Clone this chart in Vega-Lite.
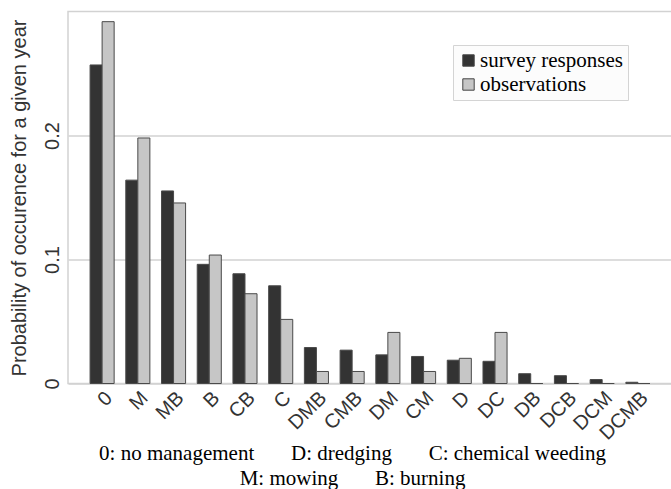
{
  "$schema": "https://vega.github.io/schema/vega-lite/v6.json",
  "width": 604,
  "height": 372,
  "autosize": {"type": "none"},
  "padding": {"left": 68, "top": 11.5, "right": 0, "bottom": 105.5},
  "background": "white",
  "config": {
    "view": {"stroke": "#d2d2d2", "strokeWidth": 1.5},
    "axis": {"domain": false, "ticks": false},
    "axisX": {"labelAngle": -45}
  },
  "data": {
    "values": [
      {"cat": "0", "series": "survey responses", "value": 0.2569},
      {"cat": "0", "series": "observations", "value": 0.2918},
      {"cat": "M", "series": "survey responses", "value": 0.164},
      {"cat": "M", "series": "observations", "value": 0.198},
      {"cat": "MB", "series": "survey responses", "value": 0.1553},
      {"cat": "MB", "series": "observations", "value": 0.1456},
      {"cat": "B", "series": "survey responses", "value": 0.0961},
      {"cat": "B", "series": "observations", "value": 0.1036},
      {"cat": "CB", "series": "survey responses", "value": 0.0885},
      {"cat": "CB", "series": "observations", "value": 0.0724},
      {"cat": "C", "series": "survey responses", "value": 0.0788},
      {"cat": "C", "series": "observations", "value": 0.0517},
      {"cat": "DMB", "series": "survey responses", "value": 0.029},
      {"cat": "DMB", "series": "observations", "value": 0.0097},
      {"cat": "CMB", "series": "survey responses", "value": 0.0269},
      {"cat": "CMB", "series": "observations", "value": 0.0097},
      {"cat": "DM", "series": "survey responses", "value": 0.0231},
      {"cat": "DM", "series": "observations", "value": 0.0412},
      {"cat": "CM", "series": "survey responses", "value": 0.0218},
      {"cat": "CM", "series": "observations", "value": 0.0097},
      {"cat": "D", "series": "survey responses", "value": 0.0188},
      {"cat": "D", "series": "observations", "value": 0.0203},
      {"cat": "DC", "series": "survey responses", "value": 0.0179},
      {"cat": "DC", "series": "observations", "value": 0.0412},
      {"cat": "DB", "series": "survey responses", "value": 0.0079},
      {"cat": "DB", "series": "observations", "value": 0},
      {"cat": "DCB", "series": "survey responses", "value": 0.0063},
      {"cat": "DCB", "series": "observations", "value": 0},
      {"cat": "DCM", "series": "survey responses", "value": 0.0032},
      {"cat": "DCM", "series": "observations", "value": 0},
      {"cat": "DCMB", "series": "survey responses", "value": 0.001},
      {"cat": "DCMB", "series": "observations", "value": 0}
    ]
  },
  "mark": {"type": "bar", "stroke": "#4a4a4a", "strokeWidth": 1},
  "encoding": {
    "x": {
      "field": "cat",
      "type": "nominal",
      "sort": ["0", "M", "MB", "B", "CB", "C", "DMB", "CMB", "DM", "CM", "D", "DC", "DB", "DCB", "DCM", "DCMB"],
      "scale": {"paddingInner": 0.326, "paddingOuter": 0.618},
      "axis": {
        "labelAngle": -45,
        "labelAlign": "right",
        "labelBaseline": "top",
        "labelFont": "Liberation Sans",
        "labelFontSize": 20,
        "labelColor": "#333333",
        "labelPadding": 4,
        "title": [
          "0: no management\u00a0\u00a0\u00a0\u00a0\u00a0\u00a0\u00a0D: dredging\u00a0\u00a0\u00a0\u00a0\u00a0\u00a0\u00a0C: chemical weeding",
          "M: mowing\u00a0\u00a0\u00a0\u00a0\u00a0\u00a0\u00a0B: burning"
        ],
        "titleFont": "Liberation Serif",
        "titleFontSize": 21,
        "titleFontWeight": "normal",
        "titleColor": "#000000",
        "titleLineHeight": 25,
        "titleAnchor": "start",
        "titleAlign": "center",
        "titleX": 284,
        "titleY": 76,
        "titleBaseline": "alphabetic"
      }
    },
    "xOffset": {
      "field": "series",
      "type": "nominal",
      "sort": ["survey responses", "observations"],
      "scale": {"paddingInner": 0, "paddingOuter": 0}
    },
    "y": {
      "field": "value",
      "type": "quantitative",
      "scale": {"domain": [0, 0.3], "nice": false},
      "axis": {
        "values": [0, 0.1, 0.2],
        "format": "~g",
        "labelAngle": -90,
        "labelFont": "Liberation Sans",
        "labelFontSize": 20,
        "labelColor": "#333333",
        "labelPadding": 6,
        "labelAlign": "center",
        "labelBaseline": "bottom",
        "gridColor": "#d2d2d2",
        "gridWidth": 1.5,
        "title": "Probability of occurence for a given year",
        "titleFont": "Liberation Sans",
        "titleFontSize": 20,
        "titleFontWeight": "normal",
        "titleColor": "#333333",
        "titlePadding": 13
      }
    },
    "color": {
      "field": "series",
      "type": "nominal",
      "sort": ["survey responses", "observations"],
      "scale": {"range": ["#333333", "#c6c6c6"]},
      "legend": {
        "title": null,
        "orient": "none",
        "legendX": 385,
        "legendY": 33.5,
        "fillColor": "#fcfcfc",
        "strokeColor": "#d4d4d4",
        "padding": 5,
        "symbolType": "square",
        "symbolSize": 130,
        "symbolStrokeColor": "#444444",
        "symbolStrokeWidth": 1,
        "labelFont": "Liberation Serif",
        "labelFontSize": 21,
        "labelColor": "#000000",
        "labelOffset": 1,
        "rowPadding": 2,
        "labelLimit": 300
      }
    }
  }
}
